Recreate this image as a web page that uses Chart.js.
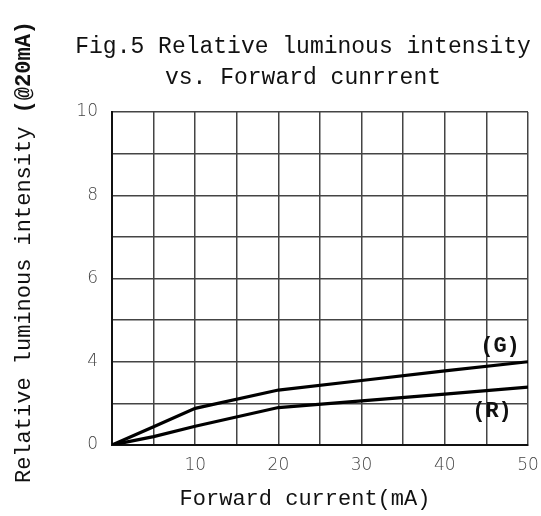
<!DOCTYPE html>
<html>
<head>
<meta charset="utf-8">
<script src="https://cdn.jsdelivr.net/npm/chart.js@4"></script>
<style>
  html, body { margin: 0; padding: 0; background: #fff; }
  #wrap { width: 541px; height: 516px; }
</style>
</head>
<body>
<div id="wrap"><canvas id="chart" width="541" height="516"></canvas></div>
<script>
// Forward current (mA)
const current = [0, 5, 10, 20, 30, 40, 50];
// curves, in grid rows (see yTickLabels for the printed numbers)
const green = [0, 0.44, 0.88, 1.32, 1.55, 1.78, 2.0];
const red = [0, 0.2, 0.45, 0.9, 1.06, 1.22, 1.39];
// printed y labels, one per grid row (the sheet skips 2)
const yTickLabels = ["0", "", "4", "", "6", "", "8", "", "10"];
const xTickLabels = { 10: "10", 20: "20", 30: "30", 40: "40", 50: "50" };

const titleLines = ["Fig.5 Relative luminous intensity", "vs. Forward cunrrent"];
const yTitle = "Relative luminous intensity ";
const yTitleBold = "(@20mA)";
const curveNames = ["(G)", "(R)"];

const mono = "'Liberation Mono', monospace";

// titles and curve tags
const textPlugin = {
  id: "sheetText",
  afterDraw(chart) {
    const ctx = chart.ctx;
    ctx.save();
    ctx.fillStyle = "#111";
    ctx.textAlign = "center";
    ctx.textBaseline = "alphabetic";
    ctx.font = "23px " + mono;
    ctx.fillText(titleLines[0], 303, 53);
    ctx.fillText(titleLines[1], 303, 84);

    // rotated y title
    ctx.translate(30, 252);
    ctx.rotate(-Math.PI / 2);
    ctx.font = "22px " + mono;
    const w1 = ctx.measureText(yTitle).width;
    ctx.font = "bold 22px " + mono;
    const w2 = ctx.measureText(yTitleBold).width;
    let x0 = -(w1 + w2) / 2;
    ctx.textAlign = "left";
    ctx.font = "22px " + mono;
    ctx.fillText(yTitle, x0, 0);
    ctx.font = "bold 22px " + mono;
    ctx.fillText(yTitleBold, x0 + w1, 0);
    ctx.restore();

    ctx.save();
    ctx.fillStyle = "#111";
    ctx.textAlign = "center";
    ctx.font = "bold 22px " + mono;
    ctx.fillText(curveNames[0], 500, 352);
    ctx.fillText(curveNames[1], 492, 417);
    ctx.font = "22px " + mono;
    ctx.fillText("Forward current(mA)", 305, 505);
    ctx.restore();
  }
};

const toPoints = ys => current.map((x, i) => ({ x: x, y: ys[i] }));

new Chart(document.getElementById("chart"), {
  type: "line",
  data: {
    datasets: [
      { label: "G", data: toPoints(green), borderColor: "#000", borderWidth: 3.2, pointRadius: 0, tension: 0 },
      { label: "R", data: toPoints(red), borderColor: "#000", borderWidth: 3.2, pointRadius: 0, tension: 0 }
    ]
  },
  options: {
    responsive: false,
    animation: false,
    layout: { padding: { left: 0, right: 13, top: 112, bottom: 0 } },
    plugins: { legend: { display: false }, title: { display: false }, tooltip: { enabled: false } },
    scales: {
      x: {
        type: "linear",
        min: 0,
        max: 50,
        afterFit: s => { s.height = 71; s.paddingRight = 0; s.paddingLeft = 0; },
        ticks: {
          stepSize: 5,
          autoSkip: false,
          maxRotation: 0,
          padding: 10,
          color: "#444",
          font: { family: "'DejaVu Sans'", size: 17, weight: "200" },
          callback: v => xTickLabels[v] || ""
        },
        grid: { color: "#444", lineWidth: 1.5, drawTicks: false },
        border: { color: "#111", width: 2 }
      },
      y: {
        min: 0,
        max: 8,
        afterFit: s => { s.width = 112; s.paddingTop = 0; s.paddingBottom = 0; },
        ticks: {
          stepSize: 1,
          autoSkip: false,
          padding: 14,
          color: "#444",
          font: { family: "'DejaVu Sans'", size: 17, weight: "200" },
          callback: v => yTickLabels[v] || ""
        },
        grid: { color: "#444", lineWidth: 1.5, drawTicks: false },
        border: { color: "#111", width: 2 }
      }
    }
  },
  plugins: [textPlugin]
});
</script>
</body>
</html>
